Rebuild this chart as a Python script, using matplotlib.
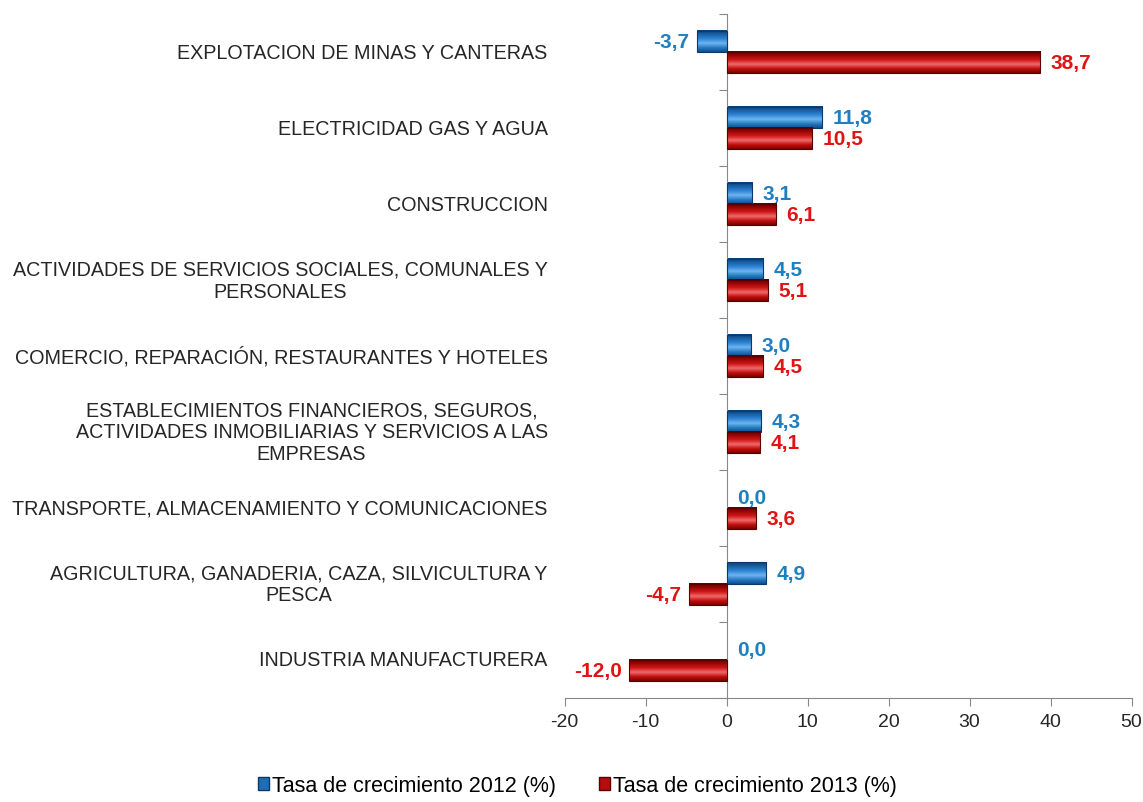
import numpy as np
import matplotlib.pyplot as plt
from matplotlib.colors import LinearSegmentedColormap
from matplotlib.patches import Patch
from matplotlib.transforms import blended_transform_factory

plt.rcParams['font.family'] = ['Liberation Sans', 'DejaVu Sans']

# categorías (de arriba hacia abajo)
categorias = [
    "EXPLOTACION DE MINAS Y CANTERAS",
    "ELECTRICIDAD GAS Y AGUA",
    "CONSTRUCCION",
    "ACTIVIDADES DE SERVICIOS SOCIALES, COMUNALES Y\nPERSONALES",
    "COMERCIO, REPARACIÓN, RESTAURANTES Y HOTELES",
    "ESTABLECIMIENTOS FINANCIEROS, SEGUROS,\nACTIVIDADES INMOBILIARIAS Y SERVICIOS A LAS\nEMPRESAS",
    "TRANSPORTE, ALMACENAMIENTO Y COMUNICACIONES",
    "AGRICULTURA, GANADERIA, CAZA, SILVICULTURA Y\nPESCA",
    "INDUSTRIA MANUFACTURERA",
]
tasa_2012 = [-3.7, 11.8, 3.1, 4.5, 3.0, 4.3, 0.0, 4.9, 0.0]
tasa_2013 = [38.7, 10.5, 6.1, 5.1, 4.5, 4.1, 3.6, -4.7, -12.0]
serie_nombres = ["Tasa de crecimiento 2012 (%)", "Tasa de crecimiento 2013 (%)"]
xticks = [-20, -10, 0, 10, 20, 30, 40, 50]

azul = "#1f6db3"
rojo = "#b50d0d"
azul_txt = "#1f7fc0"
rojo_txt = "#e01414"

# degradado tipo "bisel" (claro arriba, oscuro abajo)
cmap_azul = LinearSegmentedColormap.from_list(
    "a", ["#0d3f73", "#1a62a8", "#2f86d6", "#6fb4ef", "#2a7cc8", "#0f4c8a"])
cmap_rojo = LinearSegmentedColormap.from_list(
    "r", ["#5e0000", "#9a0606", "#d01818", "#f06a6a", "#c41010", "#780202"])

fig = plt.figure(figsize=(11.43, 8.03), dpi=100)
ax = fig.add_axes([0.494, 0.130, 0.496, 0.851])

n = len(categorias)
y = np.arange(n)[::-1]  # primera categoría arriba
h = 0.28
grad = np.linspace(0, 1, 64).reshape(-1, 1)


def barra(v, yc, cmap, color):
    x0, x1 = min(0, v), max(0, v)
    if x1 - x0 < 1e-9:
        return
    ax.imshow(grad, cmap=cmap, aspect='auto', origin='upper',
              extent=[x0, x1, yc - h / 2, yc + h / 2], zorder=2)
    ax.add_patch(plt.Rectangle((x0, yc - h / 2), x1 - x0, h, fill=False,
                               edgecolor=color, lw=0.8, zorder=3))


for i in range(n):
    yb = y[i] + h / 2
    yr = y[i] - h / 2
    barra(tasa_2012[i], yb, cmap_azul, "#0b3a6a")
    barra(tasa_2013[i], yr, cmap_rojo, "#5a0000")
    for v, yc, col in [(tasa_2012[i], yb, azul_txt), (tasa_2013[i], yr, rojo_txt)]:
        txt = f"{v:.1f}".replace(".", ",")
        if v < 0:
            ax.text(v - 0.9, yc, txt, ha='right', va='center', color=col,
                    fontsize=15, fontweight='bold', zorder=4)
        else:
            ax.text(v + 1.3, yc, txt, ha='left', va='center', color=col,
                    fontsize=15, fontweight='bold', zorder=4)

ax.set_xlim(-20, 50)
ax.set_ylim(-0.5, n - 0.5)
ax.set_xticks(xticks)
ax.set_xticklabels([str(t) for t in xticks], fontsize=14, color="#262626")
ax.tick_params(axis='x', direction='out', length=6, color="#888888", pad=5)

# eje vertical en x=0, marcas entre categorías
ax.spines['left'].set_position(('data', 0))
ax.spines['left'].set_color("#888888")
ax.spines['bottom'].set_color("#888888")
ax.spines['top'].set_visible(False)
ax.spines['right'].set_visible(False)
ax.set_yticks(np.arange(n + 1) - 0.5)
ax.set_yticklabels([])
ax.tick_params(axis='y', direction='out', length=6, color="#888888")

trans = blended_transform_factory(ax.transAxes, ax.transData)
for i, cat in enumerate(categorias):
    ax.text(-0.03, y[i], cat, transform=trans, ha='right', va='center',
            multialignment='center', fontsize=14.2, color="#262626",
            linespacing=1.2)

handles = [Patch(facecolor=azul, edgecolor="#0b3a6a"),
           Patch(facecolor=rojo, edgecolor="#5a0000")]
fig.legend(handles, serie_nombres, loc='lower center', ncol=2,
           bbox_to_anchor=(0.505, -0.017), frameon=False, fontsize=15.5,
           handlelength=0.5, handleheight=0.5, handletextpad=0.15,
           columnspacing=2.0)

fig.savefig("out.png", dpi=100)
